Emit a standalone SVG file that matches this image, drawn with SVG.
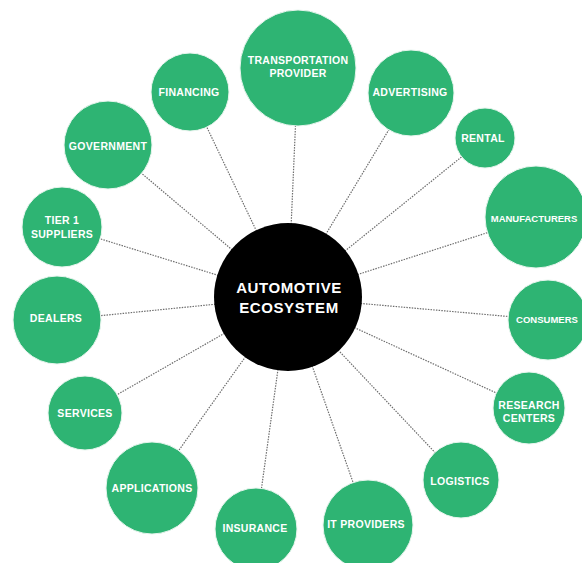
<svg xmlns="http://www.w3.org/2000/svg" width="582" height="563" viewBox="0 0 582 563">
<style>
.n{fill:#2eb473;stroke:#e8f5ee;stroke-width:1}
.t{font-family:"Liberation Sans",Arial,sans-serif;font-weight:bold;font-size:10.5px;fill:#fff;text-anchor:middle;letter-spacing:0.3px}
.s{font-family:"Liberation Sans",Arial,sans-serif;font-weight:bold;font-size:9.5px;fill:#fff;text-anchor:middle}
.c{font-family:"Liberation Sans",Arial,sans-serif;font-weight:bold;font-size:15px;fill:#fff;text-anchor:middle;letter-spacing:0.6px}
.l{stroke:#6e6e6e;stroke-width:1.2;stroke-dasharray:1.5 1.2;fill:none}
</style>
<rect width="582" height="563" fill="#fff"/>
<g id="connectors">
<line class="l" x1="288" y1="297" x2="298" y2="68"/>
<line class="l" x1="288" y1="297" x2="190" y2="92"/>
<line class="l" x1="288" y1="297" x2="108" y2="145"/>
<line class="l" x1="288" y1="297" x2="411" y2="93"/>
<line class="l" x1="288" y1="297" x2="485" y2="138"/>
<line class="l" x1="288" y1="297" x2="536" y2="217"/>
<line class="l" x1="288" y1="297" x2="548" y2="320"/>
<line class="l" x1="288" y1="297" x2="529" y2="408"/>
<line class="l" x1="288" y1="297" x2="461" y2="480"/>
<line class="l" x1="288" y1="297" x2="368" y2="525"/>
<line class="l" x1="288" y1="297" x2="256" y2="528"/>
<line class="l" x1="288" y1="297" x2="152" y2="488"/>
<line class="l" x1="288" y1="297" x2="85" y2="413"/>
<line class="l" x1="288" y1="297" x2="57" y2="320"/>
<line class="l" x1="288" y1="297" x2="62" y2="227"/>
</g>
<g id="center"><circle cx="288" cy="297" r="74" fill="#000"/><text class="c" x="289" y="293">AUTOMOTIVE</text><text class="c" x="289" y="313">ECOSYSTEM</text></g>
<g id="transportation"><circle class="n" cx="298" cy="68" r="58"/><text class="t" x="298" y="64">TRANSPORTATION</text><text class="t" x="298" y="77">PROVIDER</text></g>
<g id="financing"><circle class="n" cx="190" cy="92" r="39"/><text class="t" x="189" y="96">FINANCING</text></g>
<g id="government"><circle class="n" cx="108" cy="145" r="44"/><text class="t" x="108" y="150">GOVERNMENT</text></g>
<g id="advertising"><circle class="n" cx="411" cy="93" r="43"/><text class="t" x="410" y="96">ADVERTISING</text></g>
<g id="rental"><circle class="n" cx="485" cy="138" r="30"/><text class="t" x="483" y="142">RENTAL</text></g>
<g id="manufacturers"><circle class="n" cx="536" cy="217" r="51"/><text class="s" x="534" y="222">MANUFACTURERS</text></g>
<g id="consumers"><circle class="n" cx="548" cy="320" r="40"/><text class="s" x="547" y="323">CONSUMERS</text></g>
<g id="research"><circle class="n" cx="529" cy="408" r="36"/><text class="t" x="529" y="409">RESEARCH</text><text class="t" x="529" y="422">CENTERS</text></g>
<g id="logistics"><circle class="n" cx="461" cy="480" r="38"/><text class="t" x="460" y="485">LOGISTICS</text></g>
<g id="it-providers"><circle class="n" cx="368" cy="525" r="45"/><text class="t" x="366" y="528">IT PROVIDERS</text></g>
<g id="insurance"><circle class="n" cx="256" cy="529" r="41"/><text class="t" x="255" y="532">INSURANCE</text></g>
<g id="applications"><circle class="n" cx="152" cy="488" r="46"/><text class="t" x="152" y="492">APPLICATIONS</text></g>
<g id="services"><circle class="n" cx="85" cy="413" r="37"/><text class="t" x="85" y="417">SERVICES</text></g>
<g id="dealers"><circle class="n" cx="57" cy="320" r="44"/><text class="t" x="56" y="322">DEALERS</text></g>
<g id="tier1"><circle class="n" cx="62" cy="227" r="40"/><text class="t" x="62" y="224">TIER 1</text><text class="t" x="62" y="238">SUPPLIERS</text></g>
</svg>
